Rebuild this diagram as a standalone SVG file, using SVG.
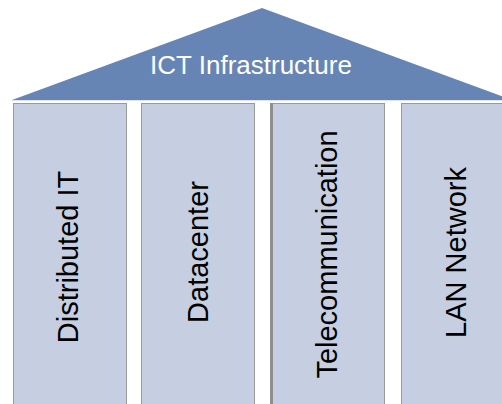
<svg xmlns="http://www.w3.org/2000/svg" width="502" height="404" viewBox="0 0 502 404">
<style>
.pillar{fill:#C5CFE1;stroke:#9A9A9A;stroke-width:1}
.ptext{font-family:"Liberation Sans",Arial,sans-serif;font-size:29px;fill:#000;text-anchor:middle}
.rtext{font-family:"Liberation Sans",Arial,sans-serif;font-size:26px;fill:#FFFFFF;text-anchor:middle}
</style>
<rect width="502" height="404" fill="#FFFFFF"/>
<g id="roof">
<polygon points="12,100 262,8 512,100" fill="#6785B4"/>
<line x1="12" y1="100.5" x2="502" y2="100.5" stroke="#DCE3EE" stroke-width="1"/>
<text class="rtext" x="251" y="74">ICT Infrastructure</text>
</g>
<g id="pillar-distributed-it">
<rect class="pillar" x="13.5" y="103.5" width="113" height="320"/>
<text class="ptext" transform="translate(78,257) rotate(-90)">Distributed IT</text>
</g>
<g id="pillar-datacenter">
<rect class="pillar" x="141.5" y="103.5" width="113" height="320"/>
<text class="ptext" transform="translate(208,252) rotate(-90)">Datacenter</text>
</g>
<g id="pillar-telecommunication">
<rect class="pillar" x="271.5" y="103.5" width="113" height="320"/>
<rect x="270" y="103" width="3" height="320" fill="#8E8E8E"/>
<text class="ptext" transform="translate(337,254.5) rotate(-90)">Telecommunication</text>
</g>
<g id="pillar-lan-network">
<rect class="pillar" x="401.5" y="103.5" width="120" height="320"/>
<text class="ptext" transform="translate(466,252.5) rotate(-90)">LAN Network</text>
</g>
<g id="connectors"></g>
</svg>
